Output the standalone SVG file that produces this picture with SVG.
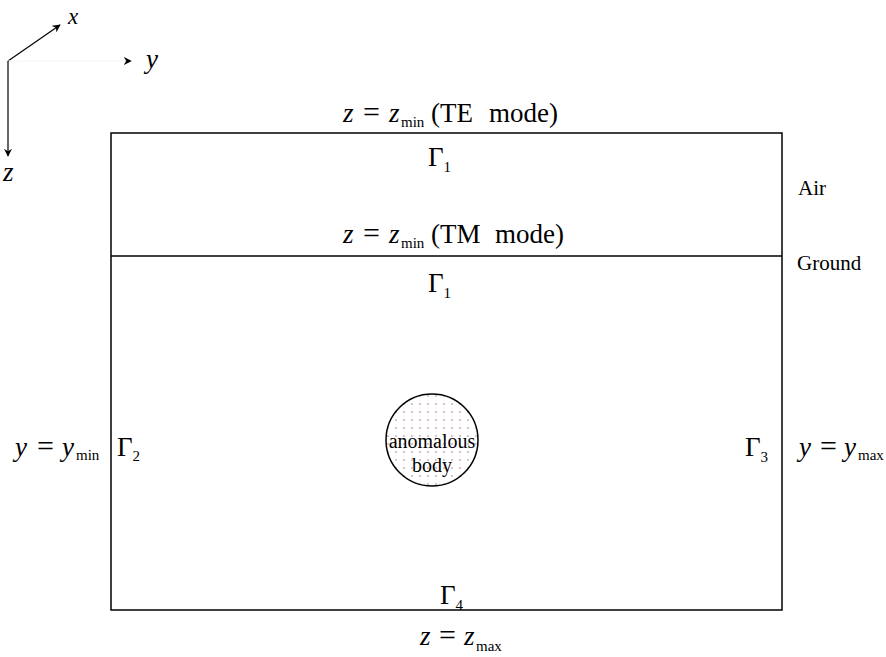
<svg xmlns="http://www.w3.org/2000/svg" width="886" height="657" viewBox="0 0 886 657">
<defs>
<marker id="ah" viewBox="0 0 10 10" refX="9" refY="5" markerWidth="8" markerHeight="8" markerUnits="userSpaceOnUse" orient="auto">
<path d="M0,0 L10,5 L0,10 L3,5 Z" fill="#000"/>
</marker>
<pattern id="dots" width="8" height="8" patternUnits="userSpaceOnUse">
<rect width="8" height="8" fill="#fff"/>
<circle cx="4" cy="4" r="0.9" fill="#c9a9b4"/>
</pattern>
<style>
.eq{font-size:27px}
.it{font-style:italic}
.sub{font-size:15px}
.op{font-size:30px}
.lbl{font-size:21px}
.ln{stroke:#000;stroke-width:1.5;fill:none}
</style>
</defs>
<rect width="886" height="657" fill="#fff"/>
<g font-family="'Liberation Serif','DejaVu Serif',serif" fill="#000">
<g id="axes">
<line x1="8" y1="61" x2="60" y2="25" stroke="#000" stroke-width="1.2" marker-end="url(#ah)"/>
<line x1="8" y1="61" x2="131" y2="61" stroke="#f4f4f4" stroke-width="1" marker-end="url(#ah)"/>
<line x1="8" y1="61" x2="8" y2="156" stroke="#000" stroke-width="1.2" marker-end="url(#ah)"/>
<text x="68" y="24" class="it" font-size="23">x</text>
<text x="146" y="68" class="eq it" font-size="25">y</text>
<text x="3" y="181" class="eq it" font-size="25">z</text>
</g>
<g id="domain">
<rect x="111" y="133" width="671" height="477" class="ln"/>
<line x1="111" y1="256" x2="782" y2="256" class="ln"/>
</g>
<g id="body">
<circle cx="432" cy="440" r="46" fill="url(#dots)" stroke="#000" stroke-width="1.5"/>
<text x="432" y="448" text-anchor="middle" font-size="20">anomalous</text>
<text x="432" y="472" text-anchor="middle" font-size="20">body</text>
</g>
<g id="labels">
<text y="122" class="eq"><tspan x="343" class="it">z</tspan><tspan x="363" class="op">=</tspan><tspan x="389" class="it">z</tspan><tspan x="401" dy="5" class="sub">min</tspan><tspan x="431" dy="-5">(TE</tspan><tspan x="489">mode)</tspan></text>
<text x="428" y="166" class="eq">Γ<tspan class="sub" dy="6">1</tspan></text>
<text y="243" class="eq"><tspan x="343" class="it">z</tspan><tspan x="363" class="op">=</tspan><tspan x="389" class="it">z</tspan><tspan x="401" dy="5" class="sub">min</tspan><tspan x="431" dy="-5">(TM</tspan><tspan x="495">mode)</tspan></text>
<text x="428" y="292" class="eq">Γ<tspan class="sub" dy="6">1</tspan></text>
<text y="456" class="eq"><tspan x="15" class="it">y</tspan><tspan x="37" class="op">=</tspan><tspan x="62" class="it">y</tspan><tspan x="76" dy="4" class="sub">min</tspan></text>
<text x="117" y="456" class="eq">Γ<tspan class="sub" dy="5">2</tspan></text>
<text x="745" y="456" class="eq">Γ<tspan class="sub" dy="6">3</tspan></text>
<text y="456" class="eq"><tspan x="799" class="it">y</tspan><tspan x="820" class="op">=</tspan><tspan x="844" class="it">y</tspan><tspan x="858" dy="4" class="sub" font-size="14">max</tspan></text>
<text x="440" y="604" class="eq">Γ<tspan class="sub" dy="6">4</tspan></text>
<text y="645" class="eq"><tspan x="420" class="it">z</tspan><tspan x="439" class="op">=</tspan><tspan x="464" class="it">z</tspan><tspan x="476" dy="6" class="sub">max</tspan></text>
<text x="798" y="195" class="lbl">Air</text>
<text x="797" y="270" class="lbl">Ground</text>
</g>
</g>
</svg>
